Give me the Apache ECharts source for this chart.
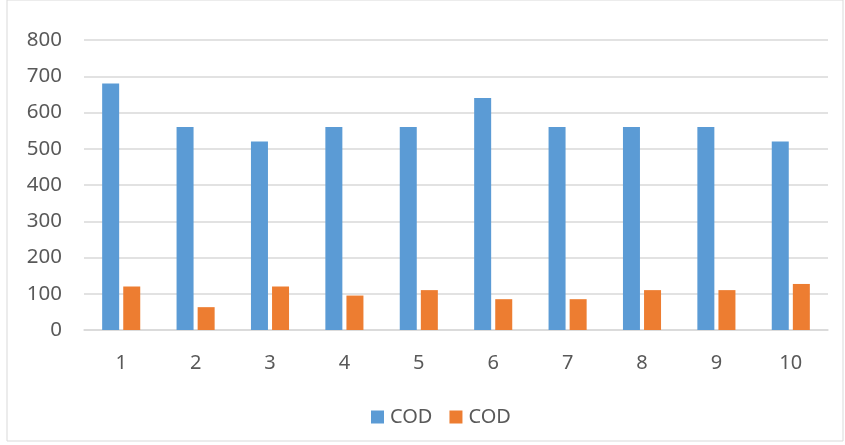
<!DOCTYPE html>
<html>
<head>
<meta charset="utf-8">
<script src="https://cdn.jsdelivr.net/npm/echarts@6/dist/echarts.min.js"></script>
<style>
html,body{margin:0;padding:0;background:#fff;}
#c{width:845px;height:445px;}
</style>
</head>
<body>
<div id="c"></div>
<script>
const categories = ['1','2','3','4','5','6','7','8','9','10'];
const seriesNames = ['COD','COD '];
const codA = [680,560,520,560,560,640,560,560,560,520];
const codB = [120,63,120,95,110,85,85,110,110,127];

const chart = echarts.init(document.getElementById('c'), null, {renderer:'canvas'});
const font = 'Noto Sans';
chart.setOption({
  animation:false,
  backgroundColor:'#fff',
  graphic:[{type:'rect',shape:{x:7,y:0,width:836,height:441},style:{fill:'none',stroke:'#d9d9d9',lineWidth:1},silent:true}],
  grid:{left:84,right:17,top:40,bottom:115,containLabel:false},
  legend:{
    top:402,left:366,itemWidth:13,itemHeight:13,itemGap:17,
    icon:'rect',
    textStyle:{color:'#595959',fontSize:20,fontFamily:font,padding:[0,0,0,1]},
    data:[{name:seriesNames[0]},{name:seriesNames[1]}]
  },
  xAxis:{
    type:'category',data:categories,
    axisLine:{show:true,lineStyle:{color:'#d9d9d9',width:1.5}},
    axisTick:{show:false},
    axisLabel:{color:'#595959',fontSize:20,fontFamily:font,margin:23}
  },
  yAxis:{
    type:'value',min:0,max:800,interval:100,
    axisLine:{show:false},axisTick:{show:false},
    axisLabel:{color:'#595959',fontSize:20.5,fontFamily:font,margin:22},
    splitLine:{lineStyle:{color:'#d9d9d9',width:1.5}}
  },
  series:[
    {name:seriesNames[0],type:'bar',data:codA,barWidth:17,barGap:'24%',itemStyle:{color:'#5B9BD5'}},
    {name:seriesNames[1],type:'bar',data:codB,barWidth:17,barGap:'24%',itemStyle:{color:'#ED7D31'}}
  ]
});
</script>
</body>
</html>
